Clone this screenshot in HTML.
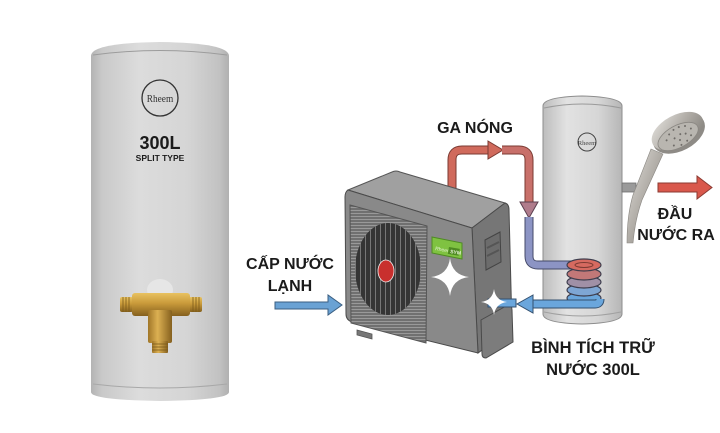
<!DOCTYPE html>
<html><head><meta charset="utf-8"><style>
html,body{margin:0;padding:0;background:#fff;}
svg{display:block;}
.t{font-family:"Liberation Sans","Noto Sans CJK SC",sans-serif;font-weight:bold;fill:#1b1b1b;}
</style></head><body>
<svg width="720" height="433" viewBox="0 0 720 433" xmlns="http://www.w3.org/2000/svg">
<defs>
<linearGradient id="tankL" x1="0" x2="1" y1="0" y2="0">
<stop offset="0" stop-color="#b3b3b3"/><stop offset="0.08" stop-color="#c9c9c9"/>
<stop offset="0.35" stop-color="#dcdcdc"/><stop offset="0.7" stop-color="#d5d5d5"/>
<stop offset="0.93" stop-color="#c2c2c2"/><stop offset="1" stop-color="#b0b0b0"/>
</linearGradient>
<linearGradient id="tankR" x1="0" x2="1" y1="0" y2="0">
<stop offset="0" stop-color="#bdbdbd"/><stop offset="0.3" stop-color="#e2e2e2"/>
<stop offset="0.7" stop-color="#d6d6d6"/><stop offset="1" stop-color="#b6b6b6"/>
</linearGradient>
<linearGradient id="brass" x1="0" x2="0" y1="0" y2="1">
<stop offset="0" stop-color="#e8c260"/><stop offset="0.45" stop-color="#c99a3a"/><stop offset="1" stop-color="#85601e"/>
</linearGradient>
<linearGradient id="brassV" x1="0" x2="1" y1="0" y2="0">
<stop offset="0" stop-color="#a07628"/><stop offset="0.4" stop-color="#dcb052"/><stop offset="1" stop-color="#85601e"/>
</linearGradient>
<linearGradient id="metal" x1="0" x2="1" y1="0" y2="1">
<stop offset="0" stop-color="#e4e2de"/><stop offset="0.5" stop-color="#b0aca6"/><stop offset="1" stop-color="#7d7a75"/>
</linearGradient>
<pattern id="grill" width="3" height="3" patternUnits="userSpaceOnUse">
<rect width="3" height="3" fill="#707070"/><rect width="3" height="1" fill="#999"/>
</pattern>
<pattern id="fanp" width="5" height="5" patternUnits="userSpaceOnUse">
<rect width="5" height="5" fill="#353535"/><rect width="1" height="5" fill="#777"/>
</pattern>
</defs>

<!-- LEFT TANK -->
<path d="M91 56 Q91 43 160 42 Q229 43 229 56 L229 392 Q229 400 160 401 Q91 400 91 392 Z" fill="url(#tankL)"/>
<path d="M93 55 Q160 46 227 55" fill="none" stroke="#9c9c9c" stroke-width="1"/>
<path d="M93 384 Q160 392 227 384" fill="none" stroke="#a8a8a8" stroke-width="1"/>
<circle cx="160" cy="98" r="18" fill="none" stroke="#333" stroke-width="1.3"/>
<text x="160" y="102" text-anchor="middle" font-family="Liberation Serif,serif" font-size="11" fill="#333" transform="translate(160 0) scale(0.85 1) translate(-160 0)">Rheem</text>
<text class="t" x="160" y="149" text-anchor="middle" font-size="18" fill="#2a2a2a">300L</text>
<text class="t" x="160" y="161" text-anchor="middle" font-size="8.5" fill="#2a2a2a">SPLIT TYPE</text>
<!-- brass fitting -->
<ellipse cx="160" cy="290" rx="13" ry="11" fill="#e6e6e6"/>
<rect x="120" y="297" width="13" height="15" rx="2" fill="url(#brass)"/>
<rect x="189" y="297" width="13" height="15" rx="2" fill="url(#brass)"/>
<g stroke="#7a5a1a" stroke-width="0.8"><line x1="123" y1="297" x2="123" y2="312"/><line x1="126" y1="297" x2="126" y2="312"/><line x1="129" y1="297" x2="129" y2="312"/><line x1="193" y1="297" x2="193" y2="312"/><line x1="196" y1="297" x2="196" y2="312"/><line x1="199" y1="297" x2="199" y2="312"/></g>
<rect x="132" y="293" width="58" height="23" rx="3" fill="url(#brass)"/>
<rect x="148" y="310" width="24" height="33" rx="2" fill="url(#brassV)"/>
<rect x="152" y="341" width="16" height="12" rx="1" fill="url(#brassV)"/>
<g stroke="#7a5a1a" stroke-width="0.8"><line x1="152" y1="344" x2="168" y2="344"/><line x1="152" y1="347" x2="168" y2="347"/><line x1="152" y1="350" x2="168" y2="350"/></g>

<!-- TEXT LEFT -->
<text class="t" x="290" y="269" text-anchor="middle" font-size="16">CẤP NƯỚC</text>
<text class="t" x="290" y="291" text-anchor="middle" font-size="16">LẠNH</text>
<path d="M275 302 H328 V295 L342 305 L328 315 V309 H275 Z" fill="#6aa2d4" stroke="#3b5f82" stroke-width="1"/>

<!-- RIGHT TANK -->
<path d="M543 106 Q543 97 582 96 Q622 97 622 106 L622 314 Q622 323 582 324 Q543 323 543 314 Z" fill="url(#tankR)" stroke="#8e8e8e" stroke-width="1"/>
<path d="M544 108 Q582 100 621 108" fill="none" stroke="#9a9a9a" stroke-width="1"/>
<path d="M544 312 Q582 320 621 312" fill="none" stroke="#a0a0a0" stroke-width="1"/>
<circle cx="587" cy="142" r="9" fill="none" stroke="#444" stroke-width="1"/>
<text x="587" y="145" text-anchor="middle" font-family="Liberation Serif,serif" font-size="6.5" fill="#444">Rheem</text>

<!-- hot pipes -->
<path d="M452 203 V160 Q452 150 462 150 H490" fill="none" stroke="#7a3a32" stroke-width="9"/>
<path d="M452 203 V160 Q452 150 462 150 H490" fill="none" stroke="#d06a5c" stroke-width="7"/>
<path d="M488 141 L503 150 L488 159 Z" fill="#d06a5c" stroke="#7a3a32" stroke-width="1"/>
<path d="M502 150 H519 Q529 150 529 160 V204" fill="none" stroke="#7a3a32" stroke-width="9"/>
<path d="M502 150 H519 Q529 150 529 160 V204" fill="none" stroke="#c8706a" stroke-width="7"/>
<path d="M520 202 L538 202 L529 218 Z" fill="#b07c8c" stroke="#5a4050" stroke-width="1"/>
<path d="M529 217 V256 Q529 265 538 265 H578" fill="none" stroke="#454a68" stroke-width="9"/>
<path d="M529 217 V256 Q529 265 538 265 H578" fill="none" stroke="#8c94c4" stroke-width="7"/>
<!-- coil -->
<g stroke="#3e3e4e" stroke-width="1.2">
<ellipse cx="584" cy="298" rx="17" ry="6" fill="#6aa6dc"/>
<ellipse cx="584" cy="290" rx="17" ry="6" fill="#7ea6d4"/>
<ellipse cx="584" cy="282" rx="17" ry="6" fill="#a090a6"/>
<ellipse cx="584" cy="274" rx="17" ry="6" fill="#c27878"/>
<ellipse cx="584" cy="265" rx="17" ry="6" fill="#d66a60"/>
</g>
<ellipse cx="584" cy="265" rx="9" ry="2.5" fill="none" stroke="#7a3a32" stroke-width="1"/>
<!-- blue return -->
<path d="M600 299 Q600 304 595 304 H530" fill="none" stroke="#34506e" stroke-width="9"/>
<path d="M600 299 Q600 304 595 304 H530" fill="none" stroke="#6aa6dc" stroke-width="7"/>
<path d="M533 295 L517 304 L533 313 Z" fill="#6aa6dc" stroke="#34506e" stroke-width="1"/>

<!-- OUTDOOR UNIT -->
<path d="M348 190 L392 172 Q396 170 400 172 L505 203 L472 228 Z" fill="#a0a0a0" stroke="#555" stroke-width="1"/>
<path d="M472 228 L505 203 Q509 204 509 210 L512 328 L478 353 Z" fill="#767676" stroke="#4a4a4a" stroke-width="1"/>
<path d="M348 190 L472 228 L478 353 L352 322 Q346 320 346 314 L345 197 Q345 192 348 190 Z" fill="#898989" stroke="#4a4a4a" stroke-width="1"/>
<path d="M485 240 L500 232 L501 262 L486 270 Z" fill="#6c6c6c" stroke="#444" stroke-width="1"/>
<path d="M487 248 L499 242 M487 256 L499 250" stroke="#555" stroke-width="2"/>
<path d="M481 320 L508 305 Q512 305 512 310 L513 342 L486 358 Q482 358 482 354 Z" fill="#7c7c7c" stroke="#4a4a4a" stroke-width="1"/>
<path d="M350 205 L427 226 L426 343 L351 323 Z" fill="url(#grill)" stroke="#555" stroke-width="1"/>
<ellipse cx="388" cy="269" rx="33" ry="46" fill="url(#fanp)"/>
<ellipse cx="386" cy="271" rx="8" ry="11" fill="#c8302e" stroke="#eee" stroke-width="0.8"/>
<path d="M357 330 L372 334 L372 339 L357 335 Z" fill="#777" stroke="#555" stroke-width="0.8"/>
<path d="M432 237 L462 243 L462 259 L432 253 Z" fill="#7fc241" stroke="#4e8a22" stroke-width="1"/>
<text x="435" y="250" font-family="Liberation Sans,sans-serif" font-size="5" fill="#e8f5d8" transform="rotate(10 435 250)">Rheem</text>
<rect x="449" y="247" width="11" height="7" fill="#4e8a22" transform="rotate(10 449 247)"/>
<text x="450" y="253" font-family="Liberation Sans,sans-serif" font-weight="bold" font-size="5" fill="#e8f5d8" transform="rotate(10 450 253)">SYM</text>
<rect x="488" y="299" width="28" height="8" fill="#6aa6dc" stroke="#34506e" stroke-width="1"/>
<path d="M450 258 Q452 275 469 277 Q452 279 450 296 Q448 279 431 277 Q448 275 450 258 Z" fill="#fff"/>
<path d="M494 289 Q495.5 300.5 507 302 Q495.5 303.5 494 315 Q492.5 303.5 481 302 Q492.5 300.5 494 289 Z" fill="#fff"/>

<!-- SHOWER -->
<rect x="622" y="183" width="14" height="9" fill="#9a9a9a" stroke="#6e6e6e" stroke-width="0.8"/>
<path d="M627 243 Q627 215 633 195 L651 149 L663 154 L642 200 Q635 220 633 243 Z" fill="url(#metal)" stroke="#8a8782" stroke-width="0.6"/>
<g transform="rotate(-28 678 132)">
<ellipse cx="678" cy="134" rx="28" ry="17" fill="#8e8b86"/>
<ellipse cx="678" cy="131" rx="28" ry="16" fill="url(#metal)"/>
<ellipse cx="676" cy="136" rx="22" ry="11" fill="#b9b6b0" stroke="#8a8782" stroke-width="0.8"/>
<g fill="#6f6c68">
<circle cx="664" cy="134" r="1"/><circle cx="669" cy="130" r="1"/><circle cx="675" cy="128" r="1"/><circle cx="681" cy="128" r="1"/><circle cx="687" cy="130" r="1"/><circle cx="691" cy="135" r="1"/><circle cx="688" cy="141" r="1"/><circle cx="682" cy="144" r="1"/><circle cx="675" cy="145" r="1"/><circle cx="668" cy="142" r="1"/><circle cx="672" cy="136" r="1"/><circle cx="679" cy="135" r="1"/><circle cx="684" cy="137" r="1"/><circle cx="676" cy="140" r="1"/>
</g>
</g>
<path d="M658 183 H697 V176 L712 187.5 L697 199 V192 H658 Z" fill="#d9584c" stroke="#8b3a32" stroke-width="1"/>

<!-- TEXT RIGHT -->
<text class="t" x="475" y="133" text-anchor="middle" font-size="16">GA NÓNG</text>
<text class="t" x="675" y="219" text-anchor="middle" font-size="16">ĐẦU</text>
<text class="t" x="676" y="240" text-anchor="middle" font-size="16">NƯỚC RA</text>
<text class="t" x="593" y="353" text-anchor="middle" font-size="16.5">BÌNH TÍCH TRỮ</text>
<text class="t" x="593" y="375" text-anchor="middle" font-size="16.5">NƯỚC 300L</text>
</svg>
</body></html>
